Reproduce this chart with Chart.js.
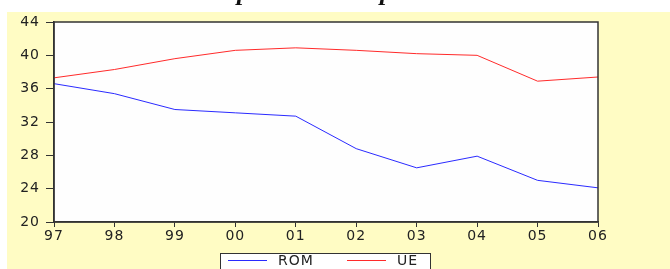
<!DOCTYPE html>
<html>
<head>
<meta charset="utf-8">
<script src="https://cdn.jsdelivr.net/npm/chart.js@4/dist/chart.umd.min.js"></script>
<style>
    html, body { margin: 0; padding: 0; background: #ffffff; }
    #chart { display: block; }
</style>
</head>
<body>
<canvas id="chart" width="670" height="269"></canvas>
<script>
const years = ["97", "98", "99", "00", "01", "02", "03", "04", "05", "06"];
const romValues = [36.6, 35.4, 33.5, 33.1, 32.7, 28.8, 26.5, 27.9, 25.0, 24.1];
const ueValues = [37.3, 38.3, 39.6, 40.6, 40.9, 40.6, 40.2, 40.0, 36.9, 37.4];
const yTicks = [20, 24, 28, 32, 36, 40, 44];
const chartTitle = "Graphic 1 - Occupation Rate";

const labelFont = { family: "DejaVu Sans", size: 14 };

// titre coupé en haut : on cale les deux "p" visibles
function drawTitle(ctx) {
    ctx.letterSpacing = "0px";
    ctx.font = "bold italic 20px 'Liberation Serif'";
    const w1 = ctx.measureText("Gra").width;
    const w2 = ctx.measureText("Graphic 1 - Occu").width;
    const size = 20 * 143 / (w2 - w1);
    ctx.font = "bold italic " + size.toFixed(1) + "px 'Liberation Serif'";
    const x0 = 237 - w1 * size / 20;
    ctx.fillStyle = "#111";
    ctx.textAlign = "left";
    ctx.textBaseline = "alphabetic";
    ctx.fillText(chartTitle, x0, 0);
}

const framePlugin = {
    id: "frame",
    beforeDraw(chart) {
        const ctx = chart.ctx;
        const a = chart.chartArea;
        ctx.save();
        ctx.fillStyle = "#ffffff";
        ctx.fillRect(0, 0, chart.width, chart.height);
        ctx.fillStyle = "#fffcc4";
        ctx.fillRect(7, 12, chart.width - 7, chart.height - 12);
        ctx.fillStyle = "#fefefe";
        ctx.fillRect(a.left, a.top, a.right - a.left, a.bottom - a.top);
        drawTitle(ctx);
        ctx.restore();
        // police un peu plus large, comme dans l'original
        ctx.letterSpacing = "1px";
    },
    afterDraw(chart) {
        const ctx = chart.ctx;
        const a = chart.chartArea;
        ctx.save();
        ctx.strokeStyle = "#333";
        ctx.lineWidth = 1.5;
        ctx.strokeRect(a.left, a.top, a.right - a.left, a.bottom - a.top);

        // légende
        ctx.fillStyle = "#ffffff";
        ctx.fillRect(220.5, 253.5, 210, 20);
        ctx.strokeStyle = "#333";
        ctx.lineWidth = 1;
        ctx.strokeRect(220.5, 253.5, 210, 20);

        const items = chart.data.datasets;
        const xs = [228, 347];
        ctx.font = "14px 'DejaVu Sans'";
        ctx.textBaseline = "middle";
        ctx.textAlign = "left";
        items.forEach((ds, i) => {
            ctx.strokeStyle = ds.borderColor;
            ctx.beginPath();
            ctx.moveTo(xs[i], 260.5);
            ctx.lineTo(xs[i] + 39, 260.5);
            ctx.stroke();
            ctx.fillStyle = "#222";
            ctx.fillText(ds.label, xs[i] + 50, 261.5);
        });
        ctx.restore();
    }
};

new Chart(document.getElementById("chart"), {
    type: "line",
    data: {
        labels: years,
        datasets: [
            {
                label: "ROM",
                data: romValues,
                borderColor: "#2a2aff",
                borderWidth: 1,
                pointRadius: 0,
                tension: 0
            },
            {
                label: "UE",
                data: ueValues,
                borderColor: "#ff2a2a",
                borderWidth: 1,
                pointRadius: 0,
                tension: 0
            }
        ]
    },
    options: {
        responsive: false,
        animation: false,
        devicePixelRatio: 1,
        layout: { padding: { left: 0, top: 22, right: 72, bottom: 0 } },
        plugins: {
            legend: { display: false },
            tooltip: { enabled: false }
        },
        scales: {
            x: {
                offset: false,
                afterFit(scale) { scale.height = 47; },
                grid: {
                    drawOnChartArea: false,
                    drawTicks: true,
                    tickLength: 5,
                    color: "#333"
                },
                border: { display: true, color: "#333", width: 1.5 },
                ticks: {
                    color: "#222",
                    font: labelFont,
                    padding: 1,
                    maxRotation: 0,
                    autoSkip: false
                }
            },
            y: {
                min: 20,
                max: 44,
                afterFit(scale) { scale.width = 54; },
                afterBuildTicks(scale) {
                    scale.ticks = yTicks.map(v => ({ value: v }));
                },
                grid: {
                    drawOnChartArea: false,
                    drawTicks: true,
                    tickLength: 8,
                    color: "#333"
                },
                border: { display: true, color: "#333", width: 1.5 },
                ticks: {
                    color: "#222",
                    font: labelFont,
                    padding: 6
                }
            }
        }
    },
    plugins: [framePlugin]
});
</script>
</body>
</html>
